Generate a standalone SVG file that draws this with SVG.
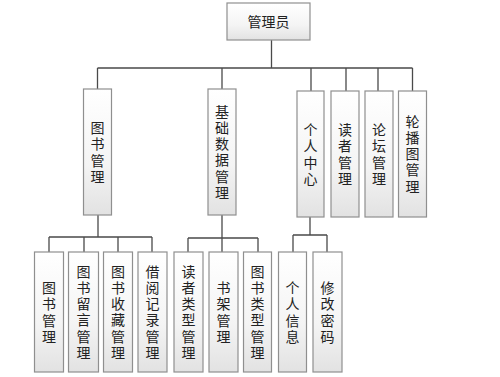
<svg xmlns="http://www.w3.org/2000/svg" width="500" height="377" viewBox="0 0 500 377">
<defs>
<linearGradient id="g" x1="0" y1="0" x2="0" y2="1">
<stop offset="0" stop-color="#ffffff"/>
<stop offset="0.6" stop-color="#f4f4f4"/>
<stop offset="1" stop-color="#e2e2e2"/>
</linearGradient>
<style>
.b{fill:url(#g);stroke:#8f8f8f;stroke-width:1.2}
.t{font-family:"Microsoft YaHei","Noto Sans CJK SC",sans-serif;font-size:14px;fill:#222;text-anchor:middle}
.c{stroke:#4a4a4a;stroke-width:1.3;fill:none}
</style>
</defs>
<rect width="500" height="377" fill="#fff"/>
<g id="connectors" class="c">
<path d="M271.5 40V68M97.5 68H412.5M97.5 68V89M222 68V89M311 68V91M346 68V91M378 68V91M412.5 68V91"/>
<path d="M98 215V237M49 237H152M49 237V252M84 237V252M118 237V252M152 237V252"/>
<path d="M222 215V252M188 238H258M188 238V252M258 238V252"/>
<path d="M310 217V235M293 235H327M293 235V252M327 235V252"/>
</g>
<g id="n-admin"><rect class="b" x="227" y="3" width="83" height="37"/><text class="t" x="268.5" y="27" font-size="15">管理员</text></g>
<g id="n-tsgl"><rect class="b" x="83.5" y="89" width="28" height="126"/><text class="t" x="97.5" y="133"><tspan x="97.5">图</tspan><tspan x="97.5" dy="16.3">书</tspan><tspan x="97.5" dy="16.3">管</tspan><tspan x="97.5" dy="16.3">理</tspan></text></g>
<g id="n-jcsj"><rect class="b" x="208" y="89" width="28" height="126"/><text class="t" x="222" y="116.5"><tspan x="222">基</tspan><tspan x="222" dy="16.3">础</tspan><tspan x="222" dy="16.3">数</tspan><tspan x="222" dy="16.3">据</tspan><tspan x="222" dy="16.3">管</tspan><tspan x="222" dy="16.3">理</tspan></text></g>
<g id="n-grzx"><rect class="b" x="297" y="91" width="27" height="126"/><text class="t" x="310.5" y="135"><tspan x="310.5">个</tspan><tspan x="310.5" dy="16.3">人</tspan><tspan x="310.5" dy="16.3">中</tspan><tspan x="310.5" dy="16.3">心</tspan></text></g>
<g id="n-dzgl"><rect class="b" x="331" y="91" width="28" height="126"/><text class="t" x="345" y="135"><tspan x="345">读</tspan><tspan x="345" dy="16.3">者</tspan><tspan x="345" dy="16.3">管</tspan><tspan x="345" dy="16.3">理</tspan></text></g>
<g id="n-ltgl"><rect class="b" x="365" y="91" width="28" height="126"/><text class="t" x="379" y="135"><tspan x="379">论</tspan><tspan x="379" dy="16.3">坛</tspan><tspan x="379" dy="16.3">管</tspan><tspan x="379" dy="16.3">理</tspan></text></g>
<g id="n-lbtgl"><rect class="b" x="398.5" y="91" width="28" height="126"/><text class="t" x="412.5" y="126.5"><tspan x="412.5">轮</tspan><tspan x="412.5" dy="16.3">播</tspan><tspan x="412.5" dy="16.3">图</tspan><tspan x="412.5" dy="16.3">管</tspan><tspan x="412.5" dy="16.3">理</tspan></text></g>
<g id="n-b1"><rect class="b" x="34.5" y="252" width="29" height="120"/><text class="t" x="49" y="293"><tspan x="49">图</tspan><tspan x="49" dy="16.3">书</tspan><tspan x="49" dy="16.3">管</tspan><tspan x="49" dy="16.3">理</tspan></text></g>
<g id="n-b2"><rect class="b" x="68.5" y="252" width="30" height="120"/><text class="t" x="83.5" y="276.5"><tspan x="83.5">图</tspan><tspan x="83.5" dy="16.3">书</tspan><tspan x="83.5" dy="16.3">留</tspan><tspan x="83.5" dy="16.3">言</tspan><tspan x="83.5" dy="16.3">管</tspan><tspan x="83.5" dy="16.3">理</tspan></text></g>
<g id="n-b3"><rect class="b" x="103.5" y="252" width="29" height="120"/><text class="t" x="118" y="276.5"><tspan x="118">图</tspan><tspan x="118" dy="16.3">书</tspan><tspan x="118" dy="16.3">收</tspan><tspan x="118" dy="16.3">藏</tspan><tspan x="118" dy="16.3">管</tspan><tspan x="118" dy="16.3">理</tspan></text></g>
<g id="n-b4"><rect class="b" x="138" y="252" width="29" height="120"/><text class="t" x="152.5" y="276.5"><tspan x="152.5">借</tspan><tspan x="152.5" dy="16.3">阅</tspan><tspan x="152.5" dy="16.3">记</tspan><tspan x="152.5" dy="16.3">录</tspan><tspan x="152.5" dy="16.3">管</tspan><tspan x="152.5" dy="16.3">理</tspan></text></g>
<g id="n-b5"><rect class="b" x="174" y="252" width="29" height="120"/><text class="t" x="188.5" y="276.5"><tspan x="188.5">读</tspan><tspan x="188.5" dy="16.3">者</tspan><tspan x="188.5" dy="16.3">类</tspan><tspan x="188.5" dy="16.3">型</tspan><tspan x="188.5" dy="16.3">管</tspan><tspan x="188.5" dy="16.3">理</tspan></text></g>
<g id="n-b6"><rect class="b" x="209" y="252" width="29" height="120"/><text class="t" x="223.5" y="293"><tspan x="223.5">书</tspan><tspan x="223.5" dy="16.3">架</tspan><tspan x="223.5" dy="16.3">管</tspan><tspan x="223.5" dy="16.3">理</tspan></text></g>
<g id="n-b7"><rect class="b" x="243.5" y="252" width="28" height="120"/><text class="t" x="257.5" y="276.5"><tspan x="257.5">图</tspan><tspan x="257.5" dy="16.3">书</tspan><tspan x="257.5" dy="16.3">类</tspan><tspan x="257.5" dy="16.3">型</tspan><tspan x="257.5" dy="16.3">管</tspan><tspan x="257.5" dy="16.3">理</tspan></text></g>
<g id="n-b8"><rect class="b" x="278.5" y="252" width="28" height="120"/><text class="t" x="292.5" y="293"><tspan x="292.5">个</tspan><tspan x="292.5" dy="16.3">人</tspan><tspan x="292.5" dy="16.3">信</tspan><tspan x="292.5" dy="16.3">息</tspan></text></g>
<g id="n-b9"><rect class="b" x="313" y="252" width="29" height="120"/><text class="t" x="327.5" y="293"><tspan x="327.5">修</tspan><tspan x="327.5" dy="16.3">改</tspan><tspan x="327.5" dy="16.3">密</tspan><tspan x="327.5" dy="16.3">码</tspan></text></g>
</svg>
